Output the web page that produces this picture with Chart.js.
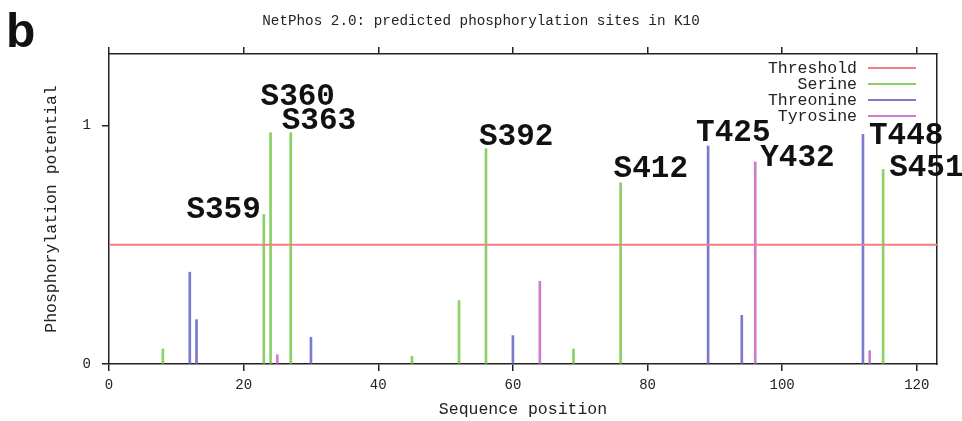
<!DOCTYPE html>
<html>
<head>
<meta charset="utf-8">
<script src="https://cdn.jsdelivr.net/npm/chart.js@4.4.1/dist/chart.umd.min.js"></script>
<style>
  html, body { margin: 0; padding: 0; background: #fff; }
  #wrap { position: relative; width: 962px; height: 421px; }
</style>
</head>
<body>
<div id="wrap"><canvas id="netphosChart"></canvas></div>
<script>
// NetPhos 2.0 scores (position within the K10 fragment)
const serinePos = [8, 23, 24, 27, 45, 52, 56, 69, 76, 115];
const serineScore = [0.063, 0.627, 0.97, 0.97, 0.032, 0.266, 0.903, 0.063, 0.76, 0.816];
const threoninePos = [12, 13, 30, 60, 89, 94, 112];
const threonineScore = [0.385, 0.186, 0.112, 0.119, 0.914, 0.204, 0.963];
const tyrosinePos = [25, 64, 96, 113];
const tyrosineScore = [0.039, 0.347, 0.847, 0.056];
const threshold = 0.5;
const seqLength = 123;
const xTickStep = 20;
const yTickStep = 1;
const yMax = 1.3;

// named sites above threshold
const sitePos = [23, 24, 27, 56, 76, 89, 96, 112, 115];
const siteNames = ['S359', 'S360', 'S363', 'S392', 'S412', 'T425', 'Y432', 'T448', 'S451'];

// label placement relative to the top of each line: [dx, dy, align]
const siteLabelOffset = [
    [-3, 4, 'right'], [-10, -28, 'left'], [-9, -4, 'left'],
    [-7, -4, 'left'], [-7, -6, 'left'], [-12, -5, 'left'],
    [5, 4, 'left'], [6, 10, 'left'], [6, 7, 'left']
];

const colors = {
    threshold: '#f27f7f',
    serine: '#8ccf66',
    threonine: '#7a7ad0',
    tyrosine: '#d07ad0',
    axis: '#222'
};

const monoFont = '"Liberation Mono", "DejaVu Sans Mono", monospace';

function toPoints(pos, score) {
    return pos.map((p, i) => ({ x: p, y: score[i] }));
}

function scoreAt(p) {
    let i = serinePos.indexOf(p);
    if (i >= 0) return serineScore[i];
    i = threoninePos.indexOf(p);
    if (i >= 0) return threonineScore[i];
    i = tyrosinePos.indexOf(p);
    return i >= 0 ? tyrosineScore[i] : 0;
}

function barSet(label, pos, score, color) {
    return {
        type: 'bar',
        label: label,
        data: toPoints(pos, score),
        backgroundColor: color,
        borderWidth: 0,
        barThickness: 2,
        grouped: false,
        order: 1
    };
}

const annotatePlugin = {
    id: 'annotate',
    afterDraw(chart) {
        const { ctx, chartArea, scales: { x, y } } = chart;
        ctx.save();

        // panel letter and title
        ctx.fillStyle = '#111';
        ctx.textAlign = 'left';
        ctx.textBaseline = 'alphabetic';
        ctx.font = 'bold 48px "Liberation Sans", Arial, sans-serif';
        ctx.fillText('b', 6, 47);
        ctx.font = '14.3px ' + monoFont;
        ctx.textAlign = 'center';
        ctx.fillStyle = '#222';
        ctx.fillText('NetPhos 2.0: predicted phosphorylation sites in K10', 481, 25);

        // site labels
        ctx.font = 'bold 31px ' + monoFont;
        ctx.fillStyle = '#111';
        siteNames.forEach((name, i) => {
            const px = x.getPixelForValue(sitePos[i]);
            const py = y.getPixelForValue(scoreAt(sitePos[i]));
            const [dx, dy, align] = siteLabelOffset[i];
            ctx.textAlign = align;
            ctx.fillText(name, px + dx, py + dy);
        });

        // legend, text right-aligned with sample line on the right
        ctx.font = '16.5px ' + monoFont;
        ctx.textAlign = 'right';
        ctx.textBaseline = 'middle';
        ctx.lineWidth = 2;
        chart.data.datasets.forEach((ds, i) => {
            const rowY = chartArea.top + 14 + i * 16;
            ctx.fillStyle = '#222';
            ctx.fillText(ds.label, chartArea.right - 80, rowY + 1);
            ctx.strokeStyle = ds.borderColor || ds.backgroundColor;
            ctx.beginPath();
            ctx.moveTo(chartArea.right - 69, rowY);
            ctx.lineTo(chartArea.right - 21, rowY);
            ctx.stroke();
        });
        ctx.restore();
    }
};

const ctx = document.getElementById('netphosChart').getContext('2d');
const netphosChart = new Chart(ctx, {
    type: 'bar',
    data: {
        datasets: [
            {
                type: 'line',
                label: 'Threshold',
                data: [{ x: 0, y: threshold }, { x: seqLength, y: threshold }],
                borderColor: colors.threshold,
                borderWidth: 2,
                pointRadius: 0,
                order: 0
            },
            barSet('Serine', serinePos, serineScore, colors.serine),
            barSet('Threonine', threoninePos, threonineScore, colors.threonine),
            barSet('Tyrosine', tyrosinePos, tyrosineScore, colors.tyrosine)
        ]
    },
    options: {
        responsive: true,
        maintainAspectRatio: false,
        animation: false,
        layout: { padding: 0 },
        scales: {
            x: {
                type: 'linear',
                position: 'bottom',
                min: 0,
                max: seqLength,
                offset: false,
                afterFit: s => { s.height = 57; },
                grid: { offset: false, drawOnChartArea: false, tickLength: 7, color: colors.axis, lineWidth: 1.5 },
                border: { color: colors.axis, width: 1.5 },
                ticks: {
                    stepSize: xTickStep,
                    includeBounds: false,
                    autoSkip: false,
                    maxRotation: 0,
                    padding: 6,
                    color: '#222',
                    font: { family: monoFont, size: 14 }
                },
                title: {
                    display: true,
                    text: 'Sequence position',
                    color: '#222',
                    padding: { top: 0, bottom: 1 },
                    font: { family: monoFont, size: 16.5 }
                }
            },
            x2: {
                type: 'linear',
                axis: 'x',
                position: 'top',
                min: 0,
                max: seqLength,
                offset: false,
                afterFit: s => { s.height = 54; },
                grid: { offset: false, drawOnChartArea: false, tickLength: 7, color: colors.axis, lineWidth: 1.5 },
                border: { color: colors.axis, width: 1.5 },
                ticks: { stepSize: xTickStep, includeBounds: false, display: false }
            },
            y: {
                type: 'linear',
                position: 'left',
                min: 0,
                max: yMax,
                afterFit: s => { s.width = 109; },
                grid: { drawOnChartArea: false, tickLength: 7, color: colors.axis, lineWidth: 1.5 },
                border: { color: colors.axis, width: 1.5 },
                ticks: {
                    stepSize: yTickStep,
                    includeBounds: false,
                    padding: 11,
                    color: '#222',
                    font: { family: monoFont, size: 14 }
                },
                title: {
                    display: true,
                    text: 'Phosphorylation potential',
                    color: '#222',
                    padding: { top: 42, bottom: 0 },
                    font: { family: monoFont, size: 16.5 }
                }
            },
            y2: {
                type: 'linear',
                axis: 'y',
                position: 'right',
                min: 0,
                max: yMax,
                afterFit: s => { s.width = 25; },
                grid: { display: false },
                border: { color: colors.axis, width: 1.5 },
                ticks: { display: false }
            }
        },
        plugins: {
            legend: { display: false },
            tooltip: { enabled: false }
        }
    },
    plugins: [annotatePlugin]
});
</script>
</body>
</html>
